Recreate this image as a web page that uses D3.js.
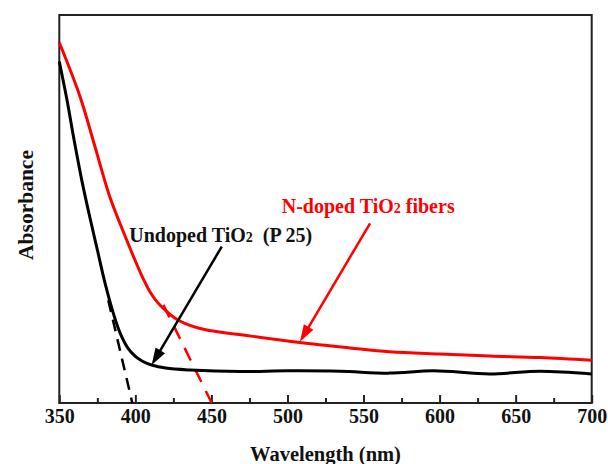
<!DOCTYPE html>
<html>
<head>
<meta charset="utf-8">
<script src="https://cdn.jsdelivr.net/npm/d3@7"></script>
<style>
  body { margin: 0; background: #fff; }
  svg { display: block; }
  text { font-family: "Liberation Serif", "Times New Roman", serif; font-weight: bold; }
</style>
</head>
<body>
<svg id="chart"></svg>
<script>
// UV-vis absorbance spectra (arbitrary units)
const redWl  = [350, 363.6, 373.5, 383.3, 394.3, 400, 405.2, 410, 414, 420, 428, 442.5, 475, 508, 541, 567, 600, 633, 666, 700];
const redAbs = [0.929, 0.790, 0.660, 0.530, 0.420, 0.366, 0.320, 0.284, 0.262, 0.238, 0.214, 0.192, 0.173, 0.156, 0.142, 0.132, 0.126, 0.121, 0.117, 0.110];

const blackWl  = [350, 355, 360, 365, 370, 375, 380, 385, 390, 395, 400, 405, 410.7, 420, 436, 469, 500, 534.5, 567, 596, 633, 666, 700];
const blackAbs = [0.880, 0.782, 0.672, 0.570, 0.480, 0.395, 0.310, 0.238, 0.180, 0.142, 0.120, 0.107, 0.098, 0.090, 0.085, 0.081, 0.083, 0.082, 0.077, 0.083, 0.075, 0.082, 0.075];

// band-edge tangent lines
const blackTanWl = [382.2, 398];
const blackTanAbs = [0.265, 0];
const redTanWl = [418.4, 450.2];
const redTanAbs = [0.253, 0];

const majorTicks = [350, 400, 450, 500, 550, 600, 650, 700];
const minorTicks = [375, 425, 475, 525, 575, 625, 675];

const width = 608, height = 464;
const margin = {top: 15, right: 16.3, bottom: 61, left: 59.3};

const svg = d3.select("#chart")
    .attr("width", width)
    .attr("height", height);

const x = d3.scaleLinear()
    .domain([350, 700])
    .range([margin.left, width - margin.right]);

const y = d3.scaleLinear()
    .domain([0, 1])
    .range([height - margin.bottom, margin.top]);

// frame
svg.append("rect")
    .attr("x", x(350))
    .attr("y", y(1))
    .attr("width", x(700) - x(350))
    .attr("height", y(0) - y(1))
    .attr("fill", "none")
    .attr("stroke", "#222")
    .attr("stroke-width", 2);

// bottom ticks (inward)
const minorAxis = d3.axisBottom(x).tickValues(minorTicks).tickSize(-5).tickFormat("");
const majorAxis = d3.axisBottom(x).tickValues(majorTicks).tickSize(-8).tickFormat(d3.format("d"));

svg.append("g")
    .attr("transform", `translate(0,${y(0)})`)
    .call(minorAxis)
    .call(g => g.select(".domain").remove())
    .selectAll("line").attr("stroke", "#222").attr("stroke-width", 2);

const gx = svg.append("g")
    .attr("transform", `translate(0,${y(0)})`)
    .call(majorAxis)
    .call(g => g.select(".domain").remove());
gx.selectAll("line").attr("stroke", "#222").attr("stroke-width", 2);
gx.selectAll("text")
    .attr("font-size", 20)
    .attr("fill", "#111")
    .attr("dy", 0)
    .attr("y", 20);

// axis titles
svg.append("text")
    .attr("x", (x(350) + x(700)) / 2)
    .attr("y", 461)
    .attr("text-anchor", "middle")
    .attr("font-size", 20.5)
    .attr("fill", "#111")
    .text("Wavelength (nm)");

svg.append("text")
    .attr("transform", `translate(32.5,205) rotate(-90)`)
    .attr("text-anchor", "middle")
    .attr("font-size", 21.5)
    .attr("fill", "#111")
    .text("Absorbance");

// curves
const line = d3.line()
    .x(d => x(d[0]))
    .y(d => y(d[1]))
    .curve(d3.curveCatmullRom.alpha(0.5));

const straight = d3.line()
    .x(d => x(d[0]))
    .y(d => y(d[1]));

svg.append("path")
    .datum(d3.zip(blackTanWl, blackTanAbs))
    .attr("d", straight)
    .attr("fill", "none")
    .attr("stroke", "#000")
    .attr("stroke-width", 2.5)
    .attr("stroke-dasharray", "12,8");

svg.append("path")
    .datum(d3.zip(redTanWl, redTanAbs))
    .attr("d", straight)
    .attr("fill", "none")
    .attr("stroke", "#ff0000")
    .attr("stroke-width", 2.5)
    .attr("stroke-dasharray", "14,10");

svg.append("path")
    .datum(d3.zip(blackWl, blackAbs))
    .attr("d", line)
    .attr("fill", "none")
    .attr("stroke", "#000")
    .attr("stroke-width", 3);

svg.append("path")
    .datum(d3.zip(redWl, redAbs))
    .attr("d", line)
    .attr("fill", "none")
    .attr("stroke", "#ff0000")
    .attr("stroke-width", 3);

// annotation arrows
const arrows = [
  {from: [456.8, 0.403], to: [410.7, 0.098], color: "#000"},
  {from: [554.3, 0.463], to: [508.2, 0.158], color: "#ff0000"}
];

arrows.forEach(a => {
  const x1 = x(a.from[0]), y1 = y(a.from[1]);
  const x2 = x(a.to[0]), y2 = y(a.to[1]);
  const len = Math.hypot(x2 - x1, y2 - y1);
  const ux = (x2 - x1) / len, uy = (y2 - y1) / len;
  const headLen = 17, headW = 5.5;
  const bx = x2 - ux * headLen, by = y2 - uy * headLen;
  svg.append("line")
      .attr("x1", x1).attr("y1", y1)
      .attr("x2", bx + ux * 2).attr("y2", by + uy * 2)
      .attr("stroke", a.color)
      .attr("stroke-width", 2.5);
  svg.append("path")
      .attr("d", `M${x2},${y2}L${bx - uy * headW},${by + ux * headW}L${bx + uy * headW},${by - ux * headW}Z`)
      .attr("fill", a.color);
});

// annotation labels
function label(pos, color, main, sub, rest) {
  const t = svg.append("text")
      .attr("x", x(pos[0]))
      .attr("y", y(pos[1]))
      .attr("font-size", 20)
      .attr("fill", color);
  t.append("tspan").text(main);
  t.append("tspan").attr("font-size", 14).text(sub);
  t.append("tspan").text(rest);
}

label([396.0, 0.416], "#111", "Undoped TiO", "2", "\u00a0 (P 25)");
label([496.2, 0.489], "#ff0000", "N-doped TiO", "2", " fibers");
</script>
</body>
</html>
